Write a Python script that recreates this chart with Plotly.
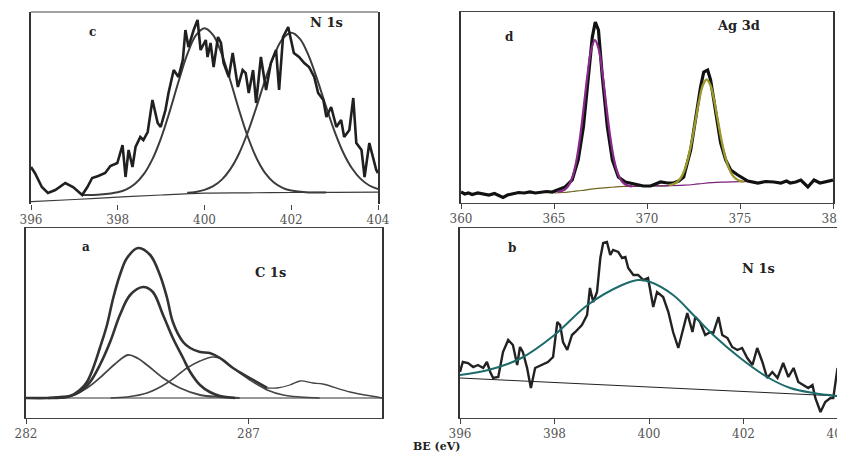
import plotly.graph_objects as go

W, H = 845, 452
OFF = 8  # the page body adds an 8px margin; positions below are page pixels

# ---------------- Panel c : N 1s (top-left) ----------------
c_be = [396.00, 396.09, 396.25, 396.39, 396.56, 396.79, 396.97, 397.18, 397.30, 397.41,
        397.55, 397.71, 397.83, 397.99, 398.11, 398.18, 398.25, 398.34, 398.41, 398.52,
        398.59, 398.69, 398.80, 398.92, 398.99, 399.10, 399.17, 399.29, 399.40, 399.50,
        399.56, 399.63, 399.75, 399.84, 399.91, 400.03, 400.07, 400.14, 400.21, 400.31,
        400.38, 400.44, 400.56, 400.65, 400.77, 400.88, 400.95, 401.02, 401.12, 401.19,
        401.30, 401.42, 401.53, 401.65, 401.72, 401.81, 401.93, 402.00, 402.06, 402.18,
        402.30, 402.41, 402.53, 402.62, 402.74, 402.81, 402.92, 403.04, 403.15, 403.22,
        403.34, 403.43, 403.50, 403.62, 403.69, 403.80, 403.89, 403.96, 404.00]
c_counts = [37, 31, 17, 11, 14, 21, 17, 9, 17, 26,
            28, 31, 38, 41, 59, 27, 54, 37, 57, 67,
            64, 72, 104, 81, 77, 94, 111, 134, 127, 144,
            174, 157, 174, 184, 154, 164, 147, 161, 137, 167,
            161, 141, 127, 151, 117, 134, 131, 111, 134, 101,
            147, 114, 141, 154, 114, 167, 177, 161, 151, 147,
            141, 137, 127, 111, 104, 87, 97, 77, 84, 67,
            74, 106, 61, 54, 27, 61, 47, 34, 31]
c_peak1_be = [397.2, 397.6, 398.0, 398.2, 398.4, 398.6, 398.8, 399.0, 399.2, 399.4, 399.6,
              399.8, 400.0, 400.2, 400.4, 400.6, 400.8, 401.0, 401.2, 401.4, 401.6, 401.8,
              402.0, 402.4, 402.8]
c_peak1 = [9.0, 9.6, 11.8, 14.7, 20.2, 29.8, 44.9, 66.2, 92.9, 122.2, 149.3,
           168.6, 175.7, 168.8, 149.6, 122.7, 93.5, 67.0, 45.8, 30.9, 21.5, 16.2,
           13.4, 11.6, 11.5]
c_peak2_be = [399.6, 399.8, 400.0, 400.2, 400.4, 400.6, 400.8, 401.0, 401.2, 401.4, 401.6,
              401.8, 402.0, 402.2, 402.4, 402.6, 402.8, 403.0, 403.2, 403.4, 403.6, 403.8, 404.0]
c_peak2 = [11.2, 12.1, 14.1, 17.8, 24.4, 35.1, 50.8, 72.0, 97.3, 124.2, 148.2,
           165.1, 171.2, 165.1, 148.4, 124.4, 97.7, 72.4, 51.3, 35.7, 25.1, 18.5, 15.0]
c_base_be = [396, 397, 398, 399, 400, 401, 402, 403, 404]
c_base = [2.3, 4.5, 6.8, 9.0, 10.8, 11.2, 11.5, 11.7, 11.9]
c_ticks = [396, 398, 400, 402, 404]

# ---------------- Panel d : Ag 3d (top-right) ----------------
d_be = [360.0, 360.2, 360.4, 360.6, 360.9, 361.2, 361.5, 361.8, 362.0, 362.26,
        362.5, 362.8, 363.1, 363.4, 363.7, 364.0, 364.3, 364.6, 364.9, 365.2,
        365.6, 365.98, 366.3, 366.58, 366.85, 367.06, 367.22, 367.39, 367.6, 367.87,
        368.14, 368.46, 368.84, 369.38, 369.8, 370.19, 370.5, 370.73, 371.1, 371.43,
        371.7, 371.97, 372.35, 372.61, 372.88, 373.05, 373.26, 373.42, 373.69, 373.96,
        374.23, 374.5, 374.88, 375.42, 375.96, 376.4, 376.82, 377.2, 377.5, 377.7,
        378.0, 378.27, 378.65, 378.98, 379.3, 379.5, 379.8, 380.0]
d_counts = [11, 9, 10, 8.5, 10, 9, 8, 9.5, 8, 5.5,
            8, 9.5, 10.5, 10, 11, 10, 11, 11.5, 11, 13,
            16, 23, 43, 76, 126, 166, 181, 173, 126, 76,
            43, 26, 21, 19, 17, 17, 19, 21, 20, 20,
            22, 26, 53, 86, 116, 131, 133, 123, 93, 60,
            43, 33, 28, 22, 20, 21.5, 21, 20, 22, 20,
            21, 23, 16, 23, 20, 21, 22, 23]
d_p1_be = [365.2, 365.4, 365.6, 365.8, 366.0, 366.2, 366.4, 366.6, 366.8, 367.0, 367.2,
           367.4, 367.6, 367.8, 368.0, 368.2, 368.4, 368.6, 368.8, 369.0, 369.2]
d_p1 = [11.2, 11.9, 13.7, 17.8, 26.5, 41.9, 65.7, 96.2, 128.2, 153.1, 162.8,
        154.1, 130.2, 99.1, 69.3, 46.1, 31.2, 22.9, 19.0, 17.4, 16.7]
d_p1_tail_be = [369.2, 370.0, 371.0, 372.0, 372.5, 373.0, 373.5, 374.0, 374.5, 375.0, 375.8]
d_p1_tail = [16.7, 17.0, 17.2, 17.8, 18.5, 19.5, 20.3, 20.8, 21.1, 21.3, 21.5]
d_p2_tail_be = [365.0, 365.5, 366.0, 366.5, 367.0, 367.5, 368.0, 368.5, 369.0, 370.0, 371.0, 371.2]
d_p2_tail = [10.0, 10.5, 11.5, 12.5, 13.8, 14.8, 15.6, 16.3, 16.6, 17.0, 17.2, 17.5]
d_p2_be = [371.2, 371.4, 371.6, 371.8, 372.0, 372.2, 372.4, 372.6, 372.8, 373.0, 373.2,
           373.4, 373.6, 373.8, 374.0, 374.2, 374.4, 374.6, 374.8, 375.0, 375.2]
d_p2 = [17.9, 18.8, 20.7, 24.6, 32.0, 44.0, 61.1, 81.7, 102.2, 117.6, 123.5,
        118.2, 103.4, 83.4, 63.3, 46.6, 34.9, 27.7, 24.0, 22.2, 21.5]
d_ticks = [360, 365, 370, 375, 380]

# ---------------- Panel a : C 1s (bottom-left) ----------------
a_env_be = [282.0, 282.5, 282.76, 282.99, 283.21, 283.37, 283.51, 283.66, 283.82, 283.96,
            284.11, 284.27, 284.52, 284.79, 285.01, 285.17, 285.30, 285.53, 285.69, 285.91,
            286.13, 286.36, 286.65, 287.03, 287.42, 287.64, 287.93, 288.16, 288.45, 288.67,
            289.28, 289.89, 290.0]
a_env = [20, 20, 21, 22, 28, 36, 50, 70, 93, 120,
         143, 160, 170, 163, 143, 120, 96, 76, 70, 66,
         65, 60, 50, 40, 30, 30, 33, 37, 35, 34,
         26, 21, 20]
a_main_be = [282.5, 282.92, 283.21, 283.44, 283.66, 283.89, 284.11, 284.34, 284.63, 284.85,
             285.08, 285.30, 285.53, 285.69, 285.91, 286.13, 286.36, 286.7]
a_main = [20, 21, 26, 36, 53, 76, 103, 123, 131, 126,
          103, 80, 60, 46, 33, 26, 22, 20]
a_low_be = [282.61, 282.99, 283.37, 283.73, 284.0, 284.29, 284.5, 284.72, 285.08, 285.46,
            285.91, 286.36, 286.8]
a_low = [20, 22, 30, 43, 54, 63, 60, 53, 40, 30, 23, 21, 20]
a_high_be = [283.9, 284.27, 284.72, 285.17, 285.62, 285.91, 286.2, 286.4, 286.65, 287.03,
             287.42, 287.78, 288.16, 288.6]
a_high = [20, 21, 25, 35, 50, 57, 61, 59, 50, 38, 28, 23, 21, 20]
a_base_be = [282, 290]
a_base = [20, 20]
a_ticks = [282, 287]

# ---------------- Panel b : N 1s (bottom-right) ----------------
b_be = [396.00, 396.06, 396.17, 396.28, 396.38, 396.49, 396.57, 396.64, 396.70, 396.81,
        396.91, 397.02, 397.12, 397.21, 397.27, 397.33, 397.42, 397.50, 397.59, 397.74,
        397.86, 397.97, 398.06, 398.12, 398.18, 398.27, 398.37, 398.44, 398.58, 398.69,
        398.75, 398.82, 398.90, 398.97, 399.03, 399.11, 399.18, 399.24, 399.35, 399.43,
        399.50, 399.56, 399.67, 399.77, 399.88, 399.98, 400.09, 400.17, 400.30, 400.41,
        400.51, 400.62, 400.72, 400.81, 400.92, 400.98, 401.08, 401.19, 401.30, 401.36,
        401.47, 401.55, 401.66, 401.76, 401.87, 401.97, 402.08, 402.19, 402.29, 402.40,
        402.50, 402.61, 402.72, 402.84, 402.95, 403.06, 403.16, 403.27, 403.37, 403.46,
        403.52, 403.63, 403.73, 403.84, 403.90, 403.99]
b_counts = [46, 56, 55, 51, 53, 50, 56, 46, 40, 41,
            66, 78, 73, 53, 71, 66, 50, 30, 50, 53,
            56, 61, 96, 93, 76, 68, 83, 86, 93, 103,
            130, 116, 126, 160, 175, 176, 163, 168, 166, 160,
            161, 150, 143, 143, 138, 140, 111, 126, 121, 106,
            86, 70, 90, 105, 86, 101, 96, 83, 86, 85,
            101, 83, 80, 71, 68, 70, 60, 53, 70, 56,
            40, 46, 40, 55, 41, 50, 36, 33, 30, 33,
            20, 6, 16, 20, 20, 50]
b_fit_be = [396.0, 396.6, 397.3, 398.0, 398.7, 399.43, 399.77, 400.03, 400.51, 400.94,
            401.36, 401.93, 402.5, 402.99, 403.48, 404.0]
b_fit = [43, 48, 60, 83, 113, 133, 138, 136, 123, 103,
         83, 60, 41, 30, 25, 22]
b_base_be = [396, 404]
b_base = [40, 22]
b_ticks = [396, 398, 400, 402, 404]


def dom_x(l, r):
    return [(l - OFF) / W, (r - OFF) / W]


def dom_y(top, bottom):
    return [1 - (bottom - OFF) / H, 1 - (top - OFF) / H]


def P(px, py):
    return (px - OFF) / W, 1 - (py - OFF) / H


fig = go.Figure()

def add(x, y, ax, color, width, shape="linear"):
    fig.add_trace(go.Scatter(x=x, y=y, mode="lines", xaxis="x" + ax, yaxis="y" + ax,
                             line=dict(color=color, width=width, shape=shape,
                                       smoothing=1.0 if shape == "spline" else None),
                             hoverinfo="skip", showlegend=False))

# panel c
add(c_base_be, c_base, "", "#3a3a3a", 1.2, "spline")
add(c_peak1_be, c_peak1, "", "#3c3c3c", 2.0, "spline")
add(c_peak2_be, c_peak2, "", "#3c3c3c", 2.0, "spline")
add(c_be, c_counts, "", "#202020", 2.6)

# panel d
add(d_p2_tail_be, d_p2_tail, "2", "#6f6420", 1.2, "spline")
add(d_p1_tail_be, d_p1_tail, "2", "#7a1f7a", 1.2, "spline")
add(d_be, d_counts, "2", "#111111", 3.2)
add(d_p1_be, d_p1, "2", "#8a2a8a", 2.2, "spline")
add(d_p2_be, d_p2, "2", "#9c9a2c", 2.4, "spline")

# panel a
add(a_base_be, a_base, "3", "#333333", 1.0)
add(a_low_be, a_low, "3", "#444444", 1.8, "spline")
add(a_high_be, a_high, "3", "#444444", 1.5, "spline")
add(a_main_be, a_main, "3", "#333333", 2.6, "spline")
split = a_env_be.index(287.42)
add(a_env_be[:split + 1], a_env[:split + 1], "3", "#333333", 2.6, "spline")
add(a_env_be[split:], a_env[split:], "3", "#444444", 1.3, "spline")

# panel b
add(b_base_be, b_base, "4", "#222222", 1.0)
add(b_be, b_counts, "4", "#222222", 2.4)
add(b_fit_be, b_fit, "4", "#1d6a6a", 2.0, "spline")

tickfont = dict(family="DejaVu Serif", size=12, color="#555555")

def xax(dom, rng, ticks, anchor, showline=True, lw=1):
    return dict(domain=dom, range=rng, anchor=anchor, tickvals=ticks,
                ticktext=[str(t) for t in ticks], ticks="outside", ticklen=5,
                tickcolor="#444444", showgrid=False, zeroline=False, automargin=False,
                showline=showline, linecolor="#444444", linewidth=lw, mirror=showline,
                tickfont=tickfont, fixedrange=True)

def yax(dom, rng, anchor, lw=1):
    return dict(domain=dom, range=rng, anchor=anchor, showticklabels=False, ticks="",
                showgrid=False, zeroline=False, showline=True, linecolor="#333333",
                linewidth=lw, mirror=True, fixedrange=True, automargin=False)

fig.update_layout(
    width=W, height=H, margin=dict(l=0, r=0, t=0, b=0, autoexpand=False),
    paper_bgcolor="white", plot_bgcolor="white", showlegend=False,
    xaxis=xax(dom_x(31, 378), [396, 404], c_ticks, "y", showline=False),
    yaxis=yax(dom_y(12, 204), [0, 192], "x", lw=2),
    xaxis2=xax(dom_x(461, 833), [360, 380], d_ticks, "y2"),
    yaxis2=yax(dom_y(12, 203), [0, 191], "x2", lw=2),
    xaxis3=xax(dom_x(26, 382), [282, 290], a_ticks, "y3"),
    yaxis3=yax(dom_y(228, 418), [0, 190], "x3", lw=1.5),
    xaxis4=xax(dom_x(460, 838), [396, 404], b_ticks, "y4"),
    yaxis4=yax(dom_y(228, 418), [0, 190], "x4", lw=1.5),
)

# top border of panel c (no bottom line there)
x0, y0 = P(31, 12)
x1, _ = P(378, 12)
fig.add_shape(type="line", xref="paper", yref="paper", x0=x0, x1=x1, y0=y0, y1=y0,
              line=dict(color="#444444", width=1))

labels = [("c", 92, 32, 12), ("N 1s", 326, 23, 13), ("d", 510, 37, 12),
          ("Ag 3d", 738, 26, 13), ("a", 86, 247, 12), ("C 1s", 270, 272, 13),
          ("b", 512, 248, 12), ("N 1s", 758, 268, 13), ("BE (eV)", 436, 446, 11)]
for txt, px, py, sz in labels:
    x, y = P(px, py)
    fig.add_annotation(x=x, y=y, xref="paper", yref="paper", text="<b>%s</b>" % txt,
                       showarrow=False, xanchor="center", yanchor="middle",
                       font=dict(family="DejaVu Serif", size=sz, color="#222222"))

fig.write_html("out.html")
